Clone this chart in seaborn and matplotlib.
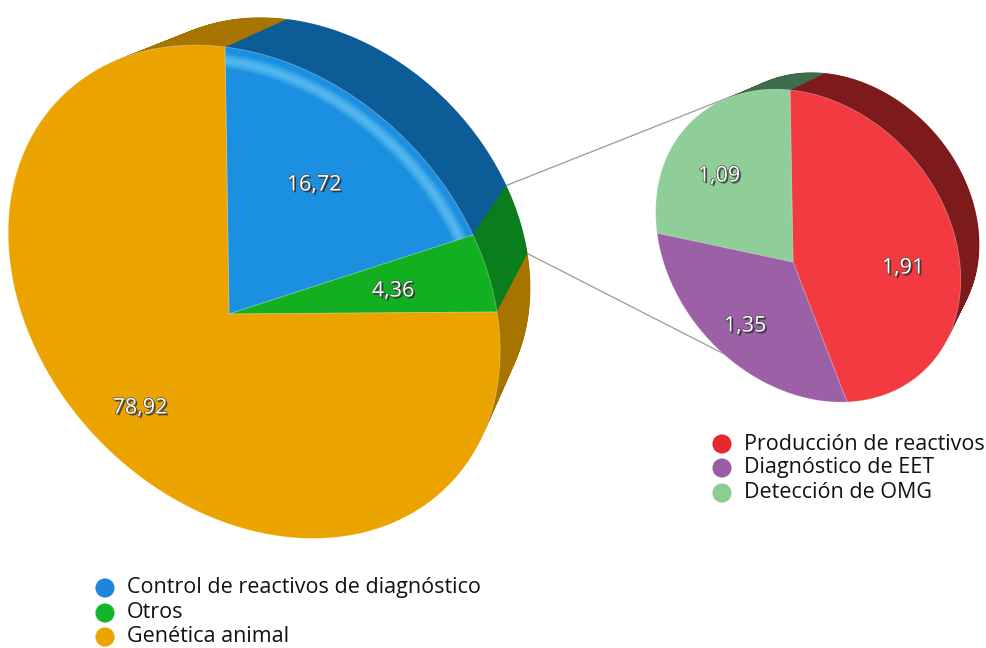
import numpy as np
import matplotlib
matplotlib.use("Agg")
import matplotlib.pyplot as plt
import matplotlib.patheffects as pe
from matplotlib.transforms import Transform, Affine2D
from matplotlib.path import Path
import seaborn as sns

# ---- data -------------------------------------------------------------
main_labels = ["Control de reactivos de diagnóstico", "Otros", "Genética animal"]
main_values = [16.72, 4.36, 78.92]
main_text = ["16,72", "4,36", "78,92"]

sub_labels = ["Producción de reactivos", "Diagnóstico de EET", "Detección de OMG"]
sub_values = [1.91, 1.35, 1.09]
sub_text = ["1,91", "1,35", "1,09"]

# ---- styling ----------------------------------------------------------
main_top = ["#1b8fe0", "#12b020", "#eba300"]
main_side = ["#0b5c97", "#0a7e1c", "#a87400"]
main_dot = ["#1c86dd", "#14b52a", "#eca400"]
sub_top = ["#f23a40", "#9b60a6", "#8fce98"]
sub_side = ["#7c1a1c", "#5a3066", "#3f6d4b"]
sub_dot = ["#e8262d", "#9b5ca6", "#8ccd93"]

sns.set_theme(style="white")
plt.rcParams["font.family"] = ["Open Sans", "DejaVu Sans"]


class Projective(Transform):
    """Plane projective map given by a 3x3 matrix."""
    input_dims = output_dims = 2
    is_separable = False
    has_inverse = False

    def __init__(self, M):
        super().__init__()
        self.M = np.asarray(M, float)

    def transform_non_affine(self, values):
        v = np.atleast_2d(np.asarray(values, float))
        h = np.c_[v, np.ones(len(v))] @ self.M.T
        return h[:, :2] / h[:, 2:3]

    def transform_path_non_affine(self, path):
        # flatten curves at a fine resolution before projecting
        polys = path.to_polygons(transform=Affine2D().scale(2000), closed_only=False)
        verts, codes = [], []
        for p in polys:
            tp = self.transform_non_affine(p / 2000.0)
            c = np.full(len(tp), Path.LINETO)
            c[0] = Path.MOVETO
            verts.append(tp)
            codes.append(c)
        return Path(np.concatenate(verts), np.concatenate(codes))


def homography(src, dst):
    A, b = [], []
    for (x, y), (X, Y) in zip(src, dst):
        A.append([x, y, 1, 0, 0, 0, -X * x, -X * y]); b.append(X)
        A.append([0, 0, 0, x, y, 1, -Y * x, -Y * y]); b.append(Y)
    h = np.linalg.solve(np.array(A, float), np.array(b, float))
    return np.append(h, 1).reshape(3, 3)


def boundary_angles(values):
    frac = np.cumsum(values) / np.sum(values)
    return np.deg2rad(90 - 360 * frac)


def unit(a):
    return (np.cos(a), np.sin(a))


def depth_scale(k, V):
    return np.array([[k, 0, (1 - k) * V[0]], [0, k, (1 - k) * V[1]], [0, 0, 1]])


fig = plt.figure(figsize=(9.86, 6.48), dpi=100)
ax = fig.add_axes([0, 0, 1, 1])


def place(wedges, M, z):
    for w in wedges:
        w.set_transform(Projective(M) + ax.transData)
        w.set_zorder(z)


def draw_solid(values, top, side, H, V, shrink, nlayers):
    # stacked copies from the back face forward build the extruded side
    for i in range(nlayers, 0, -1):
        k = 1 - shrink * i / nlayers
        wedges, _ = ax.pie(values, colors=side, startangle=90, counterclock=False,
                           radius=1, wedgeprops=dict(linewidth=0))
        place(wedges, depth_scale(k, V) @ H, 2)
    wedges, _ = ax.pie(values, colors=top, startangle=90, counterclock=False,
                       radius=1, wedgeprops=dict(linewidth=0.6, edgecolor="#ffffff55"))
    place(wedges, H, 3)
    return wedges


def bevel(wedge, color, H, r=0.955):
    # soft bright band along the rim of one slice, made of stacked strokes
    th = np.deg2rad(np.linspace(wedge.theta1, wedge.theta2, 300))
    tr = Projective(H) + ax.transData
    for lw in np.linspace(11, 1.5, 9):
        ln, = ax.plot(r * np.cos(th), r * np.sin(th), color=color, lw=lw,
                      alpha=0.09, solid_capstyle="butt", transform=tr, zorder=3.5)
        ln.set_clip_path(wedge)


# main pie
ba = boundary_angles(main_values)
H_main = homography([(0, 0), (0, 1), unit(ba[0]), unit(ba[1])],
                    [(229, 314), (225, 47), (473, 235), (497, 312)])
V_main = (763, -196)
main_wedges = draw_solid(main_values, main_top, main_side, H_main, V_main, 0.115, 90)
bevel(main_wedges[0], "#7fdcff", H_main)

# breakdown pie
bs = boundary_angles(sub_values)
H_sub = homography([(0, 0), (0, 1), unit(bs[0]), unit(bs[1])],
                   [(793, 262), (790, 90), (847, 402), (657, 233)])
V_sub = (1157, -88)
draw_solid(sub_values, sub_top, sub_side, H_sub, V_sub, 0.095, 50)

# connector lines between the "Otros" slice and the breakdown pie
back_main = Projective(depth_scale(1 - 0.115, V_main) @ H_main)
p_up = back_main.transform_non_affine([unit(ba[0])])[0]
p_dn = back_main.transform_non_affine([unit(ba[1])])[0]
ax.plot([p_up[0], 740], [p_up[1], 93], color="#9a9a9a", lw=0.9, zorder=1)
ax.plot([p_dn[0], 730], [p_dn[1], 357], color="#9a9a9a", lw=0.9, zorder=1)

# value labels
shadow = [pe.SimplePatchShadow(offset=(1.3, -1.3), shadow_rgbFace="#222222", alpha=0.75),
          pe.Stroke(linewidth=0.9, foreground="#4a4a4a"), pe.Normal()]
label_pos_main = [(314, 185), (393, 291), (140, 408)]
for (x, y), t in zip(label_pos_main, main_text):
    ax.text(x, y, t, color="white", fontsize=15.5, ha="center", va="center",
            path_effects=shadow, zorder=5)
label_pos_sub = [(903, 268), (745, 326), (719, 176)]
for (x, y), t in zip(label_pos_sub, sub_text):
    ax.text(x, y, t, color="white", fontsize=15.5, ha="center", va="center",
            path_effects=shadow, zorder=5)

# legends
leg_main_y = [588, 613, 637]
sns.scatterplot(x=[105] * 3, y=leg_main_y, hue=main_labels, palette=main_dot,
                s=190, linewidth=0, legend=False, ax=ax, zorder=6)
for y, t in zip(leg_main_y, main_labels):
    ax.text(127, y, t, fontsize=15.5, color="#111111", va="center", ha="left")

leg_sub_y = [444, 468, 493]
sns.scatterplot(x=[722] * 3, y=leg_sub_y, hue=sub_labels, palette=sub_dot,
                s=190, linewidth=0, legend=False, ax=ax, zorder=6)
for y, t in zip(leg_sub_y, sub_labels):
    ax.text(744, y, t, fontsize=15.5, color="#111111", va="center", ha="left")

ax.set_aspect("auto")
ax.set_xlim(0, 986)
ax.set_ylim(648, 0)
ax.set_axis_off()
fig.savefig("out.png", dpi=100, facecolor="white")
